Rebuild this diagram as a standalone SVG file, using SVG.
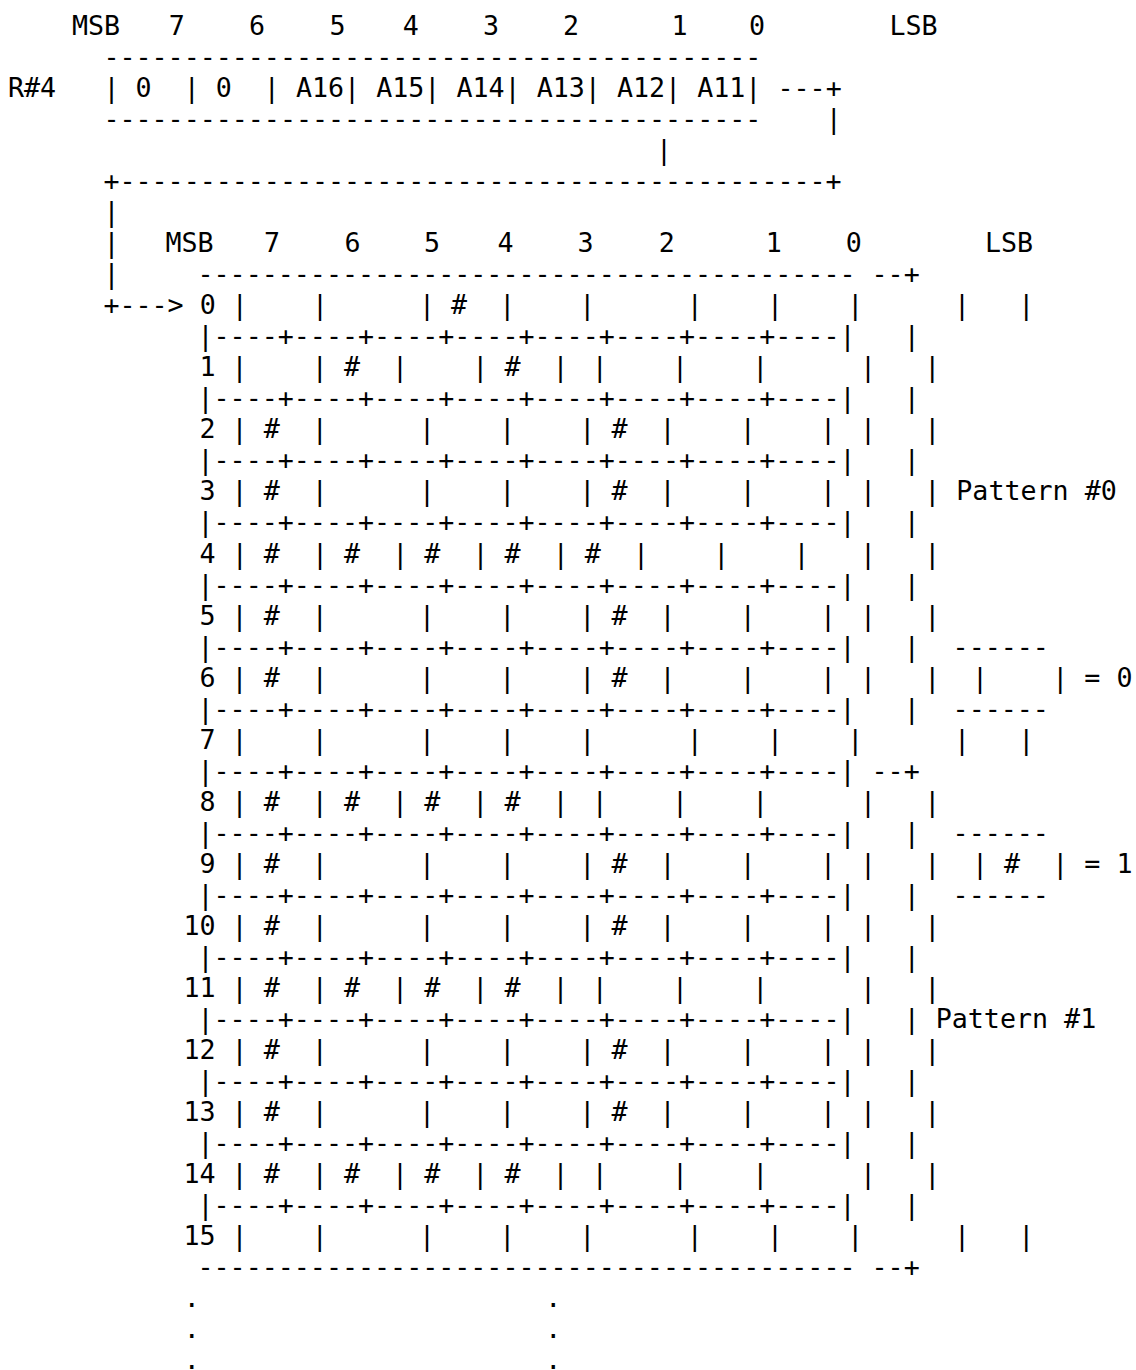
<svg xmlns="http://www.w3.org/2000/svg" width="1136" height="1370" viewBox="0 0 1136 1370" xml:space="preserve">
<style>
text{font-family:"DejaVu Sans Mono","Liberation Mono",monospace;font-size:26.67px;fill:#000;white-space:pre}
</style>
<rect width="1136" height="1370" fill="#fff"/>
<g id="r4-bit-header">
<text x="72" y="35">MSB</text>
<text x="168.8" y="35">7</text>
<text x="249.1" y="35">6</text>
<text x="329.5" y="35">5</text>
<text x="402.7" y="35">4</text>
<text x="483.1" y="35">3</text>
<text x="563" y="35">2</text>
<text x="671.4" y="35">1</text>
<text x="749" y="35">0</text>
<text x="889.5" y="35">LSB</text>
</g>
<g id="register-r4">
<text x="103.4" y="66.03">-----------------------------------------</text>
<text x="8" y="97.06">R#4</text>
<text x="103.4" y="97.06">| 0  | 0  | A16| A15| A14| A13| A12| A11|</text>
<text x="103.4" y="128.09">-----------------------------------------</text>
</g>
<g id="connectors">
<text x="777.5" y="97.06">---+</text>
<text x="825.65" y="128.09">|</text>
<text x="656" y="159.12">|</text>
<text x="103.4" y="190.15">+--------------------------------------------+</text>
<text x="103.4" y="221.18">|</text>
<text x="103.4" y="252.21">|</text>
<text x="103.4" y="283.24">|</text>
<text x="103.4" y="314.27">+---&gt;</text>
</g>
<g id="pattern-bit-header">
<text x="165.5" y="252.21">MSB</text>
<text x="264.1" y="252.21">7</text>
<text x="344.5" y="252.21">6</text>
<text x="424.1" y="252.21">5</text>
<text x="497.4" y="252.21">4</text>
<text x="577.4" y="252.21">3</text>
<text x="658.7" y="252.21">2</text>
<text x="765.7" y="252.21">1</text>
<text x="845.7" y="252.21">0</text>
<text x="985" y="252.21">LSB</text>
</g>
<g id="pattern-table">
<text x="197.5" y="283.24">----------------------------------------- --+</text>
<text x="199.7" y="314.27">0 |    |</text>
<text x="418.9" y="314.27">| #  |    |</text>
<text x="686.8" y="314.27">|    |    |</text>
<text x="954" y="314.27">|   |</text>
<text x="197.5" y="345.3">|----+----+----+----+----+----+----+----|   |</text>
<text x="199.5" y="376.33">1 |    | #  |    | #  |</text>
<text x="591.8" y="376.33">|    |    |</text>
<text x="860" y="376.33">|   |</text>
<text x="197.5" y="407.36">|----+----+----+----+----+----+----+----|   |</text>
<text x="199.5" y="438.39">2 | #  |</text>
<text x="418.9" y="438.39">|    |    | #  |    |    |</text>
<text x="860" y="438.39">|   |</text>
<text x="197.5" y="469.42">|----+----+----+----+----+----+----+----|   |</text>
<text x="199.5" y="500.45">3 | #  |</text>
<text x="418.9" y="500.45">|    |    | #  |    |    |</text>
<text x="860" y="500.45">|   | Pattern #0</text>
<text x="197.5" y="531.48">|----+----+----+----+----+----+----+----|   |</text>
<text x="199.6" y="562.51">4 | #  | #  | #  | #  | #  |    |    |</text>
<text x="860" y="562.51">|   |</text>
<text x="197.5" y="593.54">|----+----+----+----+----+----+----+----|   |</text>
<text x="199.5" y="624.57">5 | #  |</text>
<text x="418.9" y="624.57">|    |    | #  |    |    |</text>
<text x="860" y="624.57">|   |</text>
<text x="197.5" y="655.6">|----+----+----+----+----+----+----+----|   |</text>
<text x="199.5" y="686.63">6 | #  |</text>
<text x="418.9" y="686.63">|    |    | #  |    |    |</text>
<text x="860" y="686.63">|   |</text>
<text x="197.5" y="717.66">|----+----+----+----+----+----+----+----|   |</text>
<text x="199.5" y="748.69">7 |    |</text>
<text x="418.9" y="748.69">|    |    |</text>
<text x="686.8" y="748.69">|    |    |</text>
<text x="954" y="748.69">|   |</text>
<text x="197.5" y="779.72">|----+----+----+----+----+----+----+----| --+</text>
<text x="199.5" y="810.75">8 | #  | #  | #  | #  |</text>
<text x="591.8" y="810.75">|    |    |</text>
<text x="860" y="810.75">|   |</text>
<text x="197.5" y="841.78">|----+----+----+----+----+----+----+----|   |</text>
<text x="199.5" y="872.81">9 | #  |</text>
<text x="418.9" y="872.81">|    |    | #  |    |    |</text>
<text x="860" y="872.81">|   |</text>
<text x="197.5" y="903.84">|----+----+----+----+----+----+----+----|   |</text>
<text x="183.45" y="934.87">10 | #  |</text>
<text x="418.9" y="934.87">|    |    | #  |    |    |</text>
<text x="860" y="934.87">|   |</text>
<text x="197.5" y="965.9">|----+----+----+----+----+----+----+----|   |</text>
<text x="183.45" y="996.93">11 | #  | #  | #  | #  |</text>
<text x="591.8" y="996.93">|    |    |</text>
<text x="860" y="996.93">|   |</text>
<text x="197.5" y="1027.96">|----+----+----+----+----+----+----+----|   | Pattern #1</text>
<text x="183.45" y="1058.99">12 | #  |</text>
<text x="418.9" y="1058.99">|    |    | #  |    |    |</text>
<text x="860" y="1058.99">|   |</text>
<text x="197.5" y="1090.02">|----+----+----+----+----+----+----+----|   |</text>
<text x="183.45" y="1121.05">13 | #  |</text>
<text x="418.9" y="1121.05">|    |    | #  |    |    |</text>
<text x="860" y="1121.05">|   |</text>
<text x="197.5" y="1152.08">|----+----+----+----+----+----+----+----|   |</text>
<text x="183.45" y="1183.11">14 | #  | #  | #  | #  |</text>
<text x="591.8" y="1183.11">|    |    |</text>
<text x="860" y="1183.11">|   |</text>
<text x="197.5" y="1214.14">|----+----+----+----+----+----+----+----|   |</text>
<text x="183.45" y="1245.17">15 |    |</text>
<text x="418.9" y="1245.17">|    |    |</text>
<text x="686.8" y="1245.17">|    |    |</text>
<text x="954" y="1245.17">|   |</text>
<text x="197.5" y="1276.2">----------------------------------------- --+</text>
<text x="183.7" y="1307.23">.</text>
<text x="545.3" y="1307.23">.</text>
<text x="183.7" y="1338.26">.</text>
<text x="545.3" y="1338.26">.</text>
<text x="183.7" y="1368.5">.</text>
<text x="545.3" y="1368.5">.</text>
</g>
<g id="legend">
<text x="952.6" y="655.6">------</text>
<text x="972" y="686.63">|    | = 0</text>
<text x="952.6" y="717.66">------</text>
<text x="952.6" y="841.78">------</text>
<text x="972" y="872.81">| #  | = 1</text>
<text x="952.6" y="903.84">------</text>
</g>
</svg>
